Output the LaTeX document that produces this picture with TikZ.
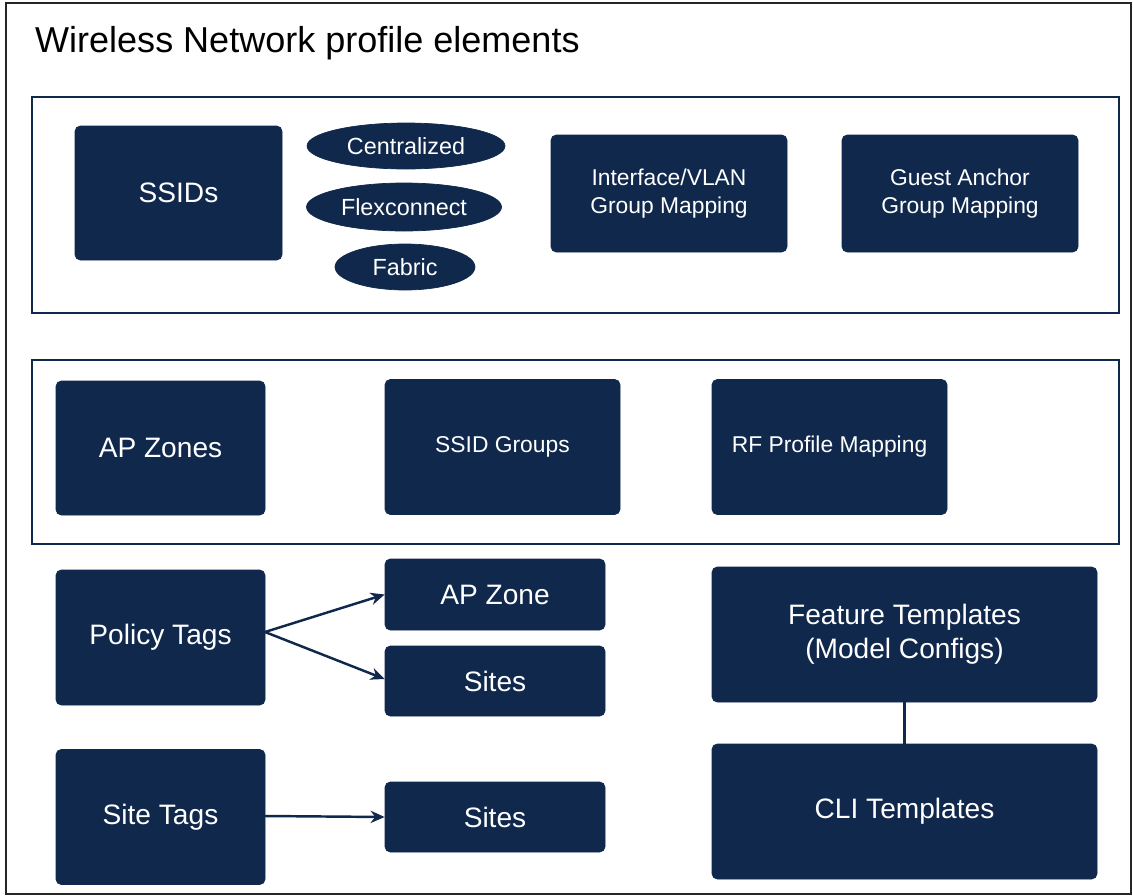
\documentclass[tikz,border=0pt]{standalone}
\usepackage{fontspec}
\setmainfont{Liberation Sans}
\usetikzlibrary{shapes.geometric,arrows.meta}
\definecolor{navy}{RGB}{16,40,76}
\begin{document}
\begin{tikzpicture}[x=0.02cm,y=-0.02cm,
  box/.style={fill=navy,draw=navy,rounded corners=3pt,text=white,align=center,inner sep=0pt},
  oval/.style={ellipse,fill=navy,draw=navy,text=white,inner sep=0pt,font=\fontsize{13.3}{15}\selectfont},
  panel/.style={draw=navy,line width=1.3pt},
  big/.style={font=\fontsize{16}{19.5}\selectfont},
  small/.style={font=\fontsize{13}{16}\selectfont},
  conn/.style={draw=navy,line width=1.4pt},
  arr/.style={conn,-{Stealth[length=8pt,width=7pt]}}]
\useasboundingbox (0,0) rectangle (1133,896);
\draw[black!85,line width=1.3pt] (6,3) rectangle (1131,894);
\node[anchor=west,font=\fontsize{20.5}{24}\selectfont] (title) at (29,43) {Wireless Network profile elements};
% panel 1
\draw[panel] (32,97) rectangle (1119,313);
\node[box,big,minimum width=207*0.02cm,minimum height=134*0.02cm] (ssids) at (178.5,193) {SSIDs};
\node[oval,minimum width=198*0.02cm,minimum height=46*0.02cm] (central) at (406,146) {Centralized};
\node[oval,minimum width=195*0.02cm,minimum height=48*0.02cm] (flex) at (404,207) {Flexconnect};
\node[oval,minimum width=140*0.02cm,minimum height=46*0.02cm] (fabric) at (405,267) {Fabric};
\node[box,small,minimum width=236*0.02cm,minimum height=117*0.02cm] (iface) at (669,193.5) {Interface/VLAN\\Group Mapping};
\node[box,small,minimum width=236*0.02cm,minimum height=117*0.02cm] (guest) at (960,193.5) {Guest Anchor\\Group Mapping};
% panel 2
\draw[panel] (32,360) rectangle (1119,544);
\node[box,big,minimum width=209*0.02cm,minimum height=134*0.02cm] (apzones) at (160.5,448) {AP Zones};
\node[box,small,minimum width=235*0.02cm,minimum height=135*0.02cm] (ssidg) at (502.5,447) {SSID Groups};
\node[box,small,minimum width=235*0.02cm,minimum height=135*0.02cm] (rfprof) at (829.5,447) {RF Profile Mapping};
% bottom
\node[box,big,minimum width=209*0.02cm,minimum height=135*0.02cm] (ptags) at (160.5,637.5) {Policy Tags};
\node[box,big,minimum width=220*0.02cm,minimum height=71*0.02cm] (apzone) at (495,594.5) {AP Zone};
\node[box,big,minimum width=220*0.02cm,minimum height=70*0.02cm] (sites1) at (495,681) {Sites};
\node[box,big,minimum width=209*0.02cm,minimum height=135*0.02cm] (stags) at (160.5,817) {Site Tags};
\node[box,big,minimum width=220*0.02cm,minimum height=70*0.02cm] (sites2) at (495,817) {Sites};
\node[box,big,minimum width=385*0.02cm,minimum height=135*0.02cm] (feat) at (904.5,634.5) {Feature Templates\\(Model Configs)};
\node[box,big,minimum width=385*0.02cm,minimum height=135*0.02cm] (cli) at (904.5,811.5) {CLI Templates};
\coordinate (pt) at (265,632);
\draw[arr] (pt) -- (apzone.west);
\draw[arr] (pt) -- ([yshift=0.04cm]sites1.west);
\draw[arr] (265,816) -- (sites2.west);
\draw[conn] (feat.south) -- (cli.north);
\end{tikzpicture}
\end{document}
